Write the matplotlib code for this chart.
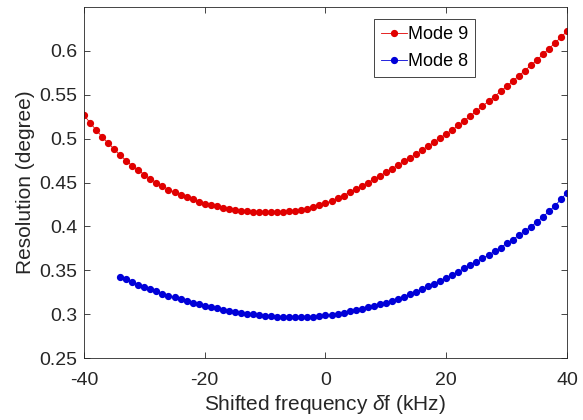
import matplotlib
matplotlib.use('Agg')
import matplotlib.pyplot as plt
from matplotlib.ticker import FormatStrFormatter
import numpy as np

# shifted frequency (kHz), 1 kHz steps
freq9 = list(range(-40, 41))
freq8 = list(range(-34, 41))

# resolution (degree)
res9 = [0.527, 0.518, 0.510, 0.502, 0.495, 0.488, 0.481, 0.475, 0.469, 0.464,
        0.459, 0.454, 0.450, 0.446, 0.442, 0.439, 0.436, 0.433, 0.431, 0.428,
        0.426, 0.424, 0.423, 0.421, 0.420, 0.419, 0.418, 0.417, 0.4165, 0.416,
        0.416, 0.416, 0.416, 0.4165, 0.417, 0.418, 0.419, 0.420, 0.422, 0.424,
        0.4265, 0.429, 0.432, 0.435, 0.439, 0.4425, 0.446, 0.450, 0.4535, 0.4575,
        0.4615, 0.4655, 0.470, 0.474, 0.478, 0.4825, 0.487, 0.4915, 0.496, 0.501,
        0.5055, 0.510, 0.515, 0.5205, 0.526, 0.5315, 0.537, 0.5425, 0.548, 0.554,
        0.5595, 0.5655, 0.5715, 0.5775, 0.5835, 0.5895, 0.596, 0.6025, 0.609, 0.6155,
        0.6225]

res8 = [0.3425, 0.3395, 0.3365, 0.3337, 0.331, 0.3285, 0.326, 0.3235, 0.3212, 0.319,
        0.317, 0.315, 0.3131, 0.3113, 0.3096, 0.308, 0.3065, 0.3051, 0.3038, 0.3026,
        0.3015, 0.3005, 0.2996, 0.2988, 0.2981, 0.2975, 0.297, 0.2967, 0.2965, 0.2965,
        0.2966, 0.2969, 0.2973, 0.2978, 0.2985, 0.2995, 0.3006, 0.3018, 0.3031, 0.3045,
        0.306, 0.3076, 0.3093, 0.3111, 0.313, 0.315, 0.3172, 0.3198, 0.3226, 0.3255,
        0.3284, 0.3315, 0.3347, 0.338, 0.3414, 0.3449, 0.3485, 0.3521, 0.3558, 0.3596,
        0.3635, 0.3675, 0.3716, 0.3759, 0.3805, 0.385, 0.3897, 0.3946, 0.3997, 0.405,
        0.4108, 0.417, 0.4236, 0.4308, 0.4385]

plt.rcParams['font.family'] = ['Liberation Sans', 'DejaVu Sans']
plt.rcParams['mathtext.fontset'] = 'custom'
plt.rcParams['mathtext.rm'] = 'Liberation Sans'
plt.rcParams['mathtext.it'] = 'Liberation Sans:italic'
plt.rcParams['axes.unicode_minus'] = False

fig = plt.figure(figsize=(5.83, 4.2), dpi=100)
ax = fig.add_axes([0.144, 0.1476, 0.8286, 0.8357])

ax.plot(freq9, res9, '-o', color='#e00000', lw=0.6, ms=4.2, label='Mode 9')
ax.plot(freq8, res8, '-o', color='#0000d8', lw=0.6, ms=4.2, label='Mode 8')

ax.set_xlim(-40, 40)
ax.set_ylim(0.25, 0.65)
ax.set_xticks([-40, -20, 0, 20, 40])
ax.set_yticks(np.arange(0.25, 0.601, 0.05))
ax.yaxis.set_major_formatter(FormatStrFormatter('%g'))

grey = '#262626'
for s in ax.spines.values():
    s.set_color(grey)
    s.set_linewidth(0.6)
ax.tick_params(direction='in', length=4, width=0.6, colors=grey, labelsize=14,
               top=True, right=True)
ax.tick_params(axis='x', pad=10)
ax.tick_params(axis='y', pad=5)

ax.set_xlabel(r'Shifted frequency $\delta$f (kHz)', fontsize=15, color=grey, labelpad=3)
ax.set_ylabel('Resolution (degree)', fontsize=15, color=grey, labelpad=3)

leg = ax.legend(loc='upper right', bbox_to_anchor=(0.81, 0.965), fontsize=13,
                fancybox=False, framealpha=1, edgecolor=grey, handlelength=1.45,
                handletextpad=0.05, borderpad=0.38, labelspacing=0.55, borderaxespad=0)
leg.get_frame().set_linewidth(0.6)

fig.savefig('out.png', dpi=100)
